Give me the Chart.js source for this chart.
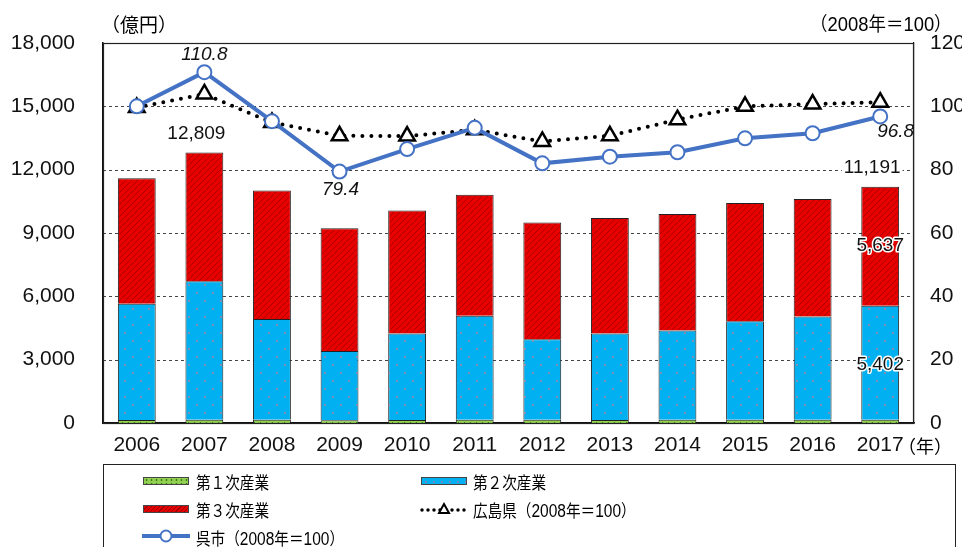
<!DOCTYPE html>
<html><head><meta charset="utf-8">
<script src="https://cdn.jsdelivr.net/npm/chart.js@4.4.0/dist/chart.umd.min.js"></script>
<style>
body{margin:0;background:#fff;width:962px;height:547px;overflow:hidden;position:relative;font-family:"Noto Sans CJK JP",sans-serif;}
#c{position:absolute;left:0;top:0;}
.t{position:absolute;color:#000;white-space:nowrap;line-height:1;}
#legend{position:absolute;left:103px;top:464px;width:853px;height:100px;border:1px solid #222;box-sizing:border-box;}
.sw{position:absolute;width:46px;height:8px;border:1px solid #444;box-sizing:border-box;}
.lt{position:absolute;font-size:17px;line-height:1;white-space:nowrap;transform:scaleX(0.86);transform-origin:left center;color:#000;}
.n{font-family:'Liberation Sans Narrow','Liberation Sans',sans-serif;font-size:18px;}
</style></head>
<body>
<canvas id="c" width="962" height="547"></canvas>
<div class="t" style="left:101px;top:14px;font-size:19px;">（億円）</div>
<div class="t" style="left:810px;top:13px;font-size:19px;transform:scaleX(0.92);transform-origin:left center;">（<span class="n" style="font-size:20px;">2008</span>年＝<span class="n" style="font-size:20px;">100</span>）</div>
<div class="t" style="left:898px;top:436px;font-size:18px;">（年）</div>
<div id="legend"></div>
<div class="sw" style="left:143px;top:477px;background-color:#92d050;background-image:radial-gradient(circle,#3a7a20 0.8px,transparent 1.2px);background-size:5px 4px;"></div>
<div class="lt" style="left:196px;top:473px;">第１次産業</div>
<div class="sw" style="left:421px;top:477px;background-color:#00b0f0;background-image:radial-gradient(circle,#6f8cc0 0.8px,transparent 1.2px);background-size:8px 8px;"></div>
<div class="lt" style="left:473px;top:473px;">第２次産業</div>
<div class="sw" style="left:143px;top:505px;background-color:#e60000;background-image:repeating-linear-gradient(135deg,#e60000 0px,#e60000 2px,#a00000 2px,#a00000 3px);"></div>
<div class="lt" style="left:196px;top:501px;">第３次産業</div>
<svg style="position:absolute;left:418px;top:500px;" width="52" height="20">
<line x1="4" y1="10" x2="48" y2="10" stroke="#000" stroke-width="3.5" stroke-dasharray="0 6" stroke-linecap="round"/>
<polygon points="26,4 31,13 21,13" fill="#fff" stroke="#000" stroke-width="2"/>
</svg>
<div class="lt" style="left:473px;top:501px;">広島県（<span class="n">2008</span>年＝<span class="n">100</span>）</div>
<svg style="position:absolute;left:140px;top:526px;" width="54" height="20">
<line x1="2" y1="10" x2="50" y2="10" stroke="#4472c4" stroke-width="4"/>
<circle cx="26" cy="10" r="5.5" fill="#fff" stroke="#4472c4" stroke-width="2"/>
</svg>
<div class="lt" style="left:196px;top:529px;">呉市（<span class="n">2008</span>年＝<span class="n">100</span>）</div>
<script>
const years = ['2006','2007','2008','2009','2010','2011','2012','2013','2014','2015','2016','2017'];
const primary   = [140, 150, 150, 130, 140, 150, 150, 140, 150, 150, 150, 152];
const secondary = [5510, 6570, 4780, 3280, 4100, 4930, 3820, 4100, 4230, 4670, 4890, 5402];
const tertiary  = [5940, 6089, 6080, 5820, 5820, 5730, 5530, 5470, 5520, 5600, 5570, 5637];
const hiroshima = [99.6, 103.9, 94.9, 90.7, 90.6, 92.6, 88.9, 90.7, 95.8, 100.0, 100.7, 101.3];
const kure      = [100.0, 110.8, 95.3, 79.4, 86.5, 93.2, 82.0, 84.1, 85.5, 89.9, 91.5, 96.8];
const leftTicks = [0, 3000, 6000, 9000, 12000, 15000, 18000];
const rightTicks = [0, 20, 40, 60, 80, 100, 120];

function pat(bg, size, draw){
  const c=document.createElement('canvas'); c.width=size; c.height=size;
  const x=c.getContext('2d'); x.fillStyle=bg; x.fillRect(0,0,size,size); draw(x,size);
  return x.createPattern(c,'repeat');
}
const redPat = pat('#e60000', 6, (x,s)=>{x.strokeStyle='#b00000';x.lineWidth=1;x.beginPath();x.moveTo(0,s);x.lineTo(s,0);x.moveTo(-1,1);x.lineTo(1,-1);x.moveTo(s-1,s+1);x.lineTo(s+1,s-1);x.stroke();});
const bluePat = pat('#00b0f0', 16, (x,s)=>{x.fillStyle='#7d8fb8';x.fillRect(4,4,2,2);x.fillRect(12,12,2,2);});
const greenPat = pat('#92d050', 6, (x,s)=>{x.fillStyle='#3f7f22';x.fillRect(2,2,1,1);});

const NUMFONT = "'Liberation Sans Narrow','Liberation Sans',sans-serif";
const fmt = v => v.toLocaleString('en-US');

const gridPlugin = {
  id:'gridPlugin',
  beforeDatasetsDraw(chart){
    const {ctx, chartArea:a, scales} = chart;
    ctx.save();
    ctx.strokeStyle='#444'; ctx.lineWidth=1; ctx.setLineDash([3,3]);
    scales.y.ticks.forEach(t=>{
      if(t.value===0) return;
      const py = Math.round(scales.y.getPixelForValue(t.value))+0.5;
      ctx.beginPath(); ctx.moveTo(a.left, py); ctx.lineTo(a.right, py); ctx.stroke();
    });
    ctx.restore();
  }
};

const frame = {
  id:'frame',
  afterDatasetsDraw(chart){
    const {ctx, chartArea:a, scales} = chart;
    ctx.save();
    ctx.strokeStyle='#222'; ctx.lineWidth=1.2;
    ctx.strokeRect(a.left+0.5, a.top+0.5, a.right-a.left-1, a.bottom-a.top);
    const xs = scales.x, y=scales.y, y1=scales.y1;
    function txt(s,px,py,font,opts={}){
      ctx.font=font; ctx.textAlign=opts.align||'center'; ctx.textBaseline='middle';
      if(opts.bg){const w=ctx.measureText(s).width; ctx.fillStyle='#fff'; const lx=opts.align==='left'?px:px-w/2; ctx.fillRect(lx-2,py-9,w+4,18);}
      if(opts.halo){ctx.strokeStyle='#fff';ctx.lineWidth=3;ctx.lineJoin='round';ctx.strokeText(s,px,py);}
      ctx.fillStyle='#111'; ctx.fillText(s,px,py);
    }
    const i7=1, i9=3, i17=11;
    txt(kure[i7].toFixed(1), xs.getPixelForValue(i7), y1.getPixelForValue(kure[i7])-17, "italic 19px "+NUMFONT);
    txt(kure[i9].toFixed(1), xs.getPixelForValue(i9)+1, y1.getPixelForValue(kure[i9])+18, "italic 19px "+NUMFONT);
    txt(kure[i17].toFixed(1), xs.getPixelForValue(i17)-3, y1.getPixelForValue(kure[i17])+15, "italic 19px "+NUMFONT, {align:'left'});
    const tot = i => primary[i]+secondary[i]+tertiary[i];
    txt(fmt(tot(i7)), xs.getPixelForValue(i7)-8, y.getPixelForValue(tot(i7))-19, "19px "+NUMFONT);
    txt(fmt(tot(i17)), xs.getPixelForValue(i17)-8, y.getPixelForValue(tot(i17))-19, "19px "+NUMFONT, {bg:true});
    const b0 = primary[i17], b1 = b0+secondary[i17], b2 = b1+tertiary[i17];
    txt(fmt(tertiary[i17]), xs.getPixelForValue(i17), (y.getPixelForValue(b1)+y.getPixelForValue(b2))/2, "19px "+NUMFONT, {halo:true});
    txt(fmt(secondary[i17]), xs.getPixelForValue(i17), (y.getPixelForValue(b0)+y.getPixelForValue(b1))/2+2, "19px "+NUMFONT, {halo:true});
    ctx.restore();
  }
};

new Chart(document.getElementById('c'), {
  data: {
    labels: years,
    datasets: [
      {type:'line', label:'呉市（2008年＝100）', data:kure, yAxisID:'y1', order:0,
        borderColor:'#4472c4', borderWidth:4, pointStyle:'circle', pointRadius:7, pointBorderWidth:2,
        pointBackgroundColor:'#fff', pointBorderColor:'#4472c4', tension:0},
      {type:'line', label:'広島県（2008年＝100）', data:hiroshima, yAxisID:'y1', order:1,
        borderColor:'#000', borderWidth:4, borderDash:[0,9], borderCapStyle:'round',
        pointStyle:'triangle', pointRadius:9, pointBorderWidth:2.5, pointBackgroundColor:'#fff', pointBorderColor:'#000', tension:0},
      {type:'bar', label:'第１次産業', data:primary, yAxisID:'y', order:2, stack:'s',
        backgroundColor:greenPat, borderColor:'#222', borderWidth:1, barPercentage:0.56, categoryPercentage:1},
      {type:'bar', label:'第２次産業', data:secondary, yAxisID:'y', order:2, stack:'s',
        backgroundColor:bluePat, borderColor:'#222', borderWidth:1, barPercentage:0.56, categoryPercentage:1},
      {type:'bar', label:'第３次産業', data:tertiary, yAxisID:'y', order:2, stack:'s',
        backgroundColor:redPat, borderColor:'#222', borderWidth:1, barPercentage:0.56, categoryPercentage:1}
    ]
  },
  options: {
    responsive:false, animation:false, devicePixelRatio:1,
    layout:{padding:{top:43, left:0, right:0, bottom:0}},
    plugins:{legend:{display:false}, tooltip:{enabled:false}},
    scales:{
      x:{stacked:true, offset:true,
        grid:{display:false, drawTicks:false},
        border:{display:true, color:'#111', width:1.5},
        ticks:{color:'#111', padding:10, font:{family:NUMFONT, size:21}, maxRotation:0},
        afterFit(s){s.height=124;}},
      y:{stacked:true, position:'left', min:0, max:18000,
        afterBuildTicks(s){s.ticks = leftTicks.map(v=>({value:v}));},
        grid:{display:false, drawTicks:false},
        border:{display:true, color:'#111', width:1.5},
        ticks:{color:'#111', padding:28, font:{family:NUMFONT, size:21}, callback:v=>fmt(v)},
        afterFit(s){s.width=103;}},
      y1:{position:'right', min:0, max:120,
        afterBuildTicks(s){s.ticks = rightTicks.map(v=>({value:v}));},
        grid:{display:false, drawTicks:false},
        border:{display:true, color:'#111', width:1.2},
        ticks:{color:'#111', padding:16, font:{family:NUMFONT, size:21}},
        afterFit(s){s.width=48;}}
    }
  },
  plugins:[gridPlugin, frame]
});
</script>
</body></html>
